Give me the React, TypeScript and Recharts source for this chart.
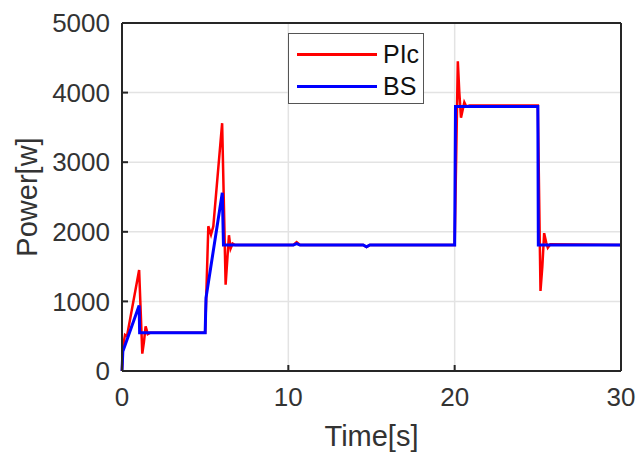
import React from "react";
import {
  LineChart,
  Line,
  CartesianGrid,
  XAxis,
  YAxis,
  Legend,
  Label,
} from "recharts";

// PIc trace (time in s, power in W)
const plcTime = [
  0, 0.05, 0.18, 0.3, 1.03, 1.22, 1.32, 1.42, 1.55, 1.7, 5.0, 5.19, 5.35,
  5.49, 6.02, 6.23, 6.33, 6.43, 6.53, 6.65, 6.8, 10.3, 10.5, 10.7, 14.5,
  14.7, 14.9, 20.0, 20.19, 20.28, 20.38, 20.48, 20.58, 20.7, 20.9, 25.0,
  25.16, 25.27, 25.38, 25.5, 25.6, 25.75, 30,
];
const plcPower = [
  0, 330, 520, 500, 1450, 250, 420, 640, 530, 550, 550, 2080, 1960, 2080,
  3560, 1240, 1600, 1950, 1760, 1830, 1810, 1810, 1850, 1810, 1810, 1780,
  1810, 1810, 4450, 4000, 3640, 3750, 3860, 3800, 3815, 3815, 1150, 1500,
  1980, 1850, 1770, 1820, 1810,
];

// BS trace
const bsTime = [
  0, 0.05, 1.03, 1.06, 5.0, 5.05, 6.03, 6.1, 10.3, 10.5, 10.7, 14.5, 14.7,
  14.9, 20.0, 20.05, 25.0, 25.03, 30,
];
const bsPower = [
  0, 280, 940, 550, 550, 1050, 2560, 1810, 1810, 1830, 1810, 1810, 1785,
  1810, 1810, 3800, 3800, 1810, 1810,
];

const timeTicks = [0, 10, 20, 30];
const powerTicks = [0, 1000, 2000, 3000, 4000, 5000];

const seriesNames = ["PIc", "BS"];
const seriesColors = ["#ff0000", "#0000ff"];

const plcData = plcTime.map((t, i) => ({ t, p: plcPower[i] }));
const bsData = bsTime.map((t, i) => ({ t, p: bsPower[i] }));

const font = "'Liberation Sans', Arial, sans-serif";
const axisColor = "#262626";
const textColor = "#333";
const tickText = { fill: textColor, fontSize: 26, fontFamily: font };

function LegendBox() {
  return (
    <div
      style={{
        border: "1.5px solid #555",
        background: "#fff",
        width: 136,
        height: 71,
        boxSizing: "border-box",
        fontFamily: font,
        fontSize: 25,
        color: "#111",
        paddingTop: 4,
      }}
    >
      {seriesNames.map((name, i) => (
        <div
          key={name}
          style={{ display: "flex", alignItems: "center", height: 32 }}
        >
          <span
            style={{
              display: "inline-block",
              width: 80,
              height: 3,
              marginLeft: 8,
              marginRight: 6,
              background: seriesColors[i],
            }}
          />
          <span>{name}</span>
        </div>
      ))}
    </div>
  );
}

function App() {
  return (
    <div style={{ position: "absolute", left: 0, top: 0 }}>
      <LineChart
        width={637}
        height={452}
        margin={{ top: 0, right: 0, bottom: 0, left: 0 }}
      >
        <CartesianGrid
          stroke="#e3e3e3"
          strokeWidth={1.5}
          horizontalValues={powerTicks}
          verticalValues={[10, 20]}
        />
        <XAxis
          dataKey="t"
          type="number"
          domain={[0, 30]}
          ticks={timeTicks}
          height={81}
          allowDuplicatedCategory={false}
          stroke={axisColor}
          strokeWidth={2}
          tickSize={-6}
          tickMargin={23}
          tick={tickText}
        >
          <Label
            content={({ viewBox }: any) => (
              <text
                x={viewBox.x + viewBox.width / 2}
                y={viewBox.y + 75}
                textAnchor="middle"
                fill={textColor}
                fontSize={29}
                fontFamily={font}
              >
                Time[s]
              </text>
            )}
          />
        </XAxis>
        <XAxis
          xAxisId="top"
          dataKey="t"
          type="number"
          orientation="top"
          domain={[0, 30]}
          ticks={timeTicks}
          height={23}
          allowDuplicatedCategory={false}
          stroke={axisColor}
          strokeWidth={2}
          tickSize={-6}
          tick={false}
        />
        <YAxis
          type="number"
          domain={[0, 5000]}
          ticks={powerTicks}
          width={122}
          stroke={axisColor}
          strokeWidth={2}
          tickSize={-6}
          tickMargin={18}
          tick={tickText}
        >
          <Label
            content={({ viewBox }: any) => {
              const cx = viewBox.x + 27;
              const cy = viewBox.y + viewBox.height / 2;
              return (
                <text
                  x={cx}
                  y={cy}
                  transform={`rotate(-90 ${cx} ${cy})`}
                  textAnchor="middle"
                  dominantBaseline="central"
                  fill={textColor}
                  fontSize={29}
                  fontFamily={font}
                >
                  Power[w]
                </text>
              );
            }}
          />
        </YAxis>
        <YAxis
          yAxisId="right"
          orientation="right"
          type="number"
          domain={[0, 5000]}
          ticks={powerTicks}
          width={16}
          stroke={axisColor}
          strokeWidth={2}
          tickSize={-6}
          tick={false}
        />
        <Legend
          layout="horizontal"
          verticalAlign="middle"
          align="center"
          wrapperStyle={{ left: 288, top: 33, width: 136, height: 71 }}
          content={() => <LegendBox />}
        />
        <Line
          data={plcData}
          dataKey="p"
          name={seriesNames[0]}
          type="linear"
          stroke={seriesColors[0]}
          strokeWidth={2.5}
          dot={false}
          isAnimationActive={false}
        />
        <Line
          data={bsData}
          dataKey="p"
          name={seriesNames[1]}
          type="linear"
          stroke={seriesColors[1]}
          strokeWidth={3}
          dot={false}
          isAnimationActive={false}
        />
      </LineChart>
    </div>
  );
}

export default App;
